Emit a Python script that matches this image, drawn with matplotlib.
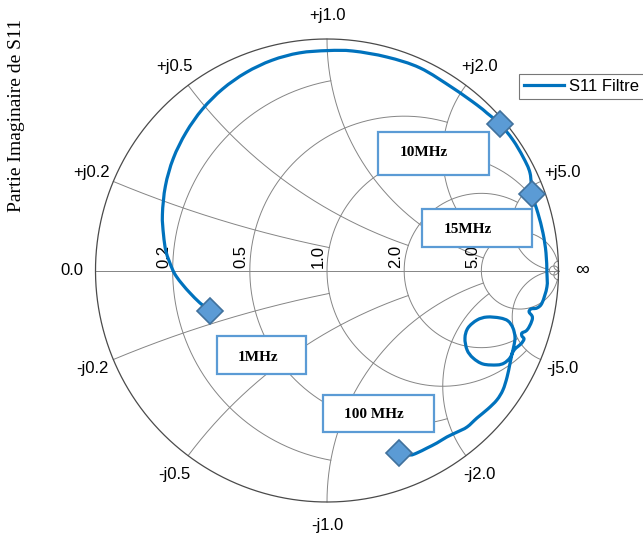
import numpy as np
import matplotlib
matplotlib.use("Agg")
import matplotlib.pyplot as plt
from matplotlib.patches import Rectangle, PathPatch
from matplotlib.path import Path
from matplotlib.lines import Line2D

# ---- data: S11 (reflection coefficient) real / imaginary parts ----
s11_re = [-0.505, -0.549, -0.592, -0.622, -0.652, -0.670, -0.695, -0.706, -0.711, -0.698,
          -0.664, -0.609, -0.538, -0.451, -0.350, -0.238, -0.119, 0.004, 0.112, 0.259,
          0.402, 0.544, 0.648, 0.691, 0.747, 0.803, 0.847, 0.877, 0.886, 0.911,
          0.933, 0.946, 0.950, 0.950, 0.929, 0.907, 0.881, 0.873, 0.886, 0.886,
          0.873, 0.860, 0.842, 0.842, 0.851, 0.838, 0.816, 0.803, 0.790, 0.765,
          0.734, 0.674, 0.631, 0.605, 0.596, 0.609, 0.648, 0.691, 0.747, 0.782,
          0.803, 0.812, 0.808, 0.799, 0.790, 0.778, 0.760, 0.734, 0.695, 0.648,
          0.605, 0.562, 0.518, 0.475, 0.432, 0.389, 0.359, 0.311]
s11_im = [-0.175, -0.140, -0.097, -0.063, -0.024, 0.011, 0.080, 0.153, 0.242, 0.365,
          0.484, 0.596, 0.697, 0.784, 0.855, 0.908, 0.940, 0.950, 0.948, 0.922,
          0.875, 0.788, 0.715, 0.680, 0.633, 0.564, 0.490, 0.421, 0.330, 0.248,
          0.162, 0.076, -0.011, -0.071, -0.140, -0.162, -0.166, -0.179, -0.197, -0.214,
          -0.244, -0.261, -0.270, -0.283, -0.296, -0.317, -0.335, -0.352, -0.378, -0.400,
          -0.408, -0.404, -0.378, -0.343, -0.292, -0.248, -0.214, -0.201, -0.205, -0.218,
          -0.248, -0.287, -0.322, -0.361, -0.404, -0.460, -0.516, -0.559, -0.598, -0.637,
          -0.676, -0.698, -0.719, -0.745, -0.767, -0.788, -0.797, -0.788]

marker_labels = ["1MHz", "10MHz", "15MHz", "100 MHz"]
marker_re = [-0.505, 0.747, 0.886, 0.311]
marker_im = [-0.175, 0.633, 0.330, -0.788]

grid_values = [0.2, 0.5, 1.0, 2.0, 5.0, 50.0]
grid_limits = [1.0, 2.0, 5.0, 5.0, 50.0, np.inf]
r_tick_values = [0.2, 0.5, 1.0, 2.0, 5.0]
r_tick_labels = ["0.2", "0.5", "1.0", "2.0", "5.0"]
x_tick_values = [0.2, 0.5, 1.0, 2.0, 5.0]
x_tick_pos_labels = ["+j0.2", "+j0.5", "+j1.0", "+j2.0", "+j5.0"]
x_tick_neg_labels = ["-j0.2", "-j0.5", "-j1.0", "-j2.0", "-j5.0"]

# ---- layout ----
W, H = 643, 540
CX, CY, R = 327.0, 270.5, 231.5
fig = plt.figure(figsize=(W / 100, H / 100), dpi=100)
ax = fig.add_axes([0, 0, 1, 1])
ax.set_xlim(-CX / R, (W - CX) / R)
ax.set_ylim(-(H - CY) / R, CY / R)
ax.axis("off")

GRID = "#858585"
OUTER = "#4a4a4a"
BLUE = "#0072BD"
SANS = "Liberation Sans"
SERIF = "Liberation Serif"


def gam(z):
    return (z - 1) / (z + 1)


# resistance circles
for r, lim in zip(grid_values, grid_limits):
    if np.isinf(lim):
        t = np.linspace(0, 2 * np.pi, 400)
        c, rad = r / (1 + r), 1 / (1 + r)
        ax.plot(c + rad * np.cos(t), rad * np.sin(t), color=GRID, lw=0.7, zorder=1)
    else:
        xs = np.linspace(-lim, lim, 3000)
        g = gam(r + 1j * xs)
        ax.plot(g.real, g.imag, color=GRID, lw=0.7, zorder=1)

# reactance arcs
for xv, lim in zip(grid_values, grid_limits):
    if np.isinf(lim):
        rs = np.tan(np.linspace(0, np.pi / 2 * 0.99999, 3000))
    else:
        rs = np.concatenate([[0.0], np.geomspace(1e-3, lim, 3000)])
    for sgn in (1, -1):
        g = gam(rs + 1j * sgn * xv)
        ax.plot(g.real, g.imag, color=GRID, lw=0.7, zorder=1)

# real axis and outer circle
ax.plot([-1, 1], [0, 0], color=GRID, lw=0.7, zorder=1)
t = np.linspace(0, 2 * np.pi, 600)
ax.plot(np.cos(t), np.sin(t), color=OUTER, lw=0.9, zorder=1)

# labels on outer circle
LR = 1.10
for xv, lp, ln in zip(x_tick_values, x_tick_pos_labels, x_tick_neg_labels):
    for sgn, lab in ((1, lp), (-1, ln)):
        a = np.angle(gam(1j * sgn * xv))
        ax.text(LR * np.cos(a), LR * np.sin(a), lab, ha="center", va="center",
                fontsize=12, family=SANS, color="black")
ax.text(-LR, 0, "0.0", ha="center", va="center", fontsize=12, family=SANS)
ax.text(LR, 0, "\u221e", ha="center", va="center", fontsize=14, family=SANS)

for rv, lab in zip(r_tick_values, r_tick_labels):
    xl = (rv - 1) / (rv + 1)
    ax.text(xl - 0.006, 0.01, lab, rotation=90, ha="right", va="bottom",
            fontsize=12, family=SANS, zorder=2)

# curve, drawn as a smooth Catmull-Rom path through the data points
P = np.column_stack([s11_re, s11_im])
Pe = np.vstack([P[0], P, P[-1]])
verts = [tuple(P[0])]
codes = [Path.MOVETO]
for i in range(1, len(Pe) - 2):
    p0, p1, p2, p3 = Pe[i - 1], Pe[i], Pe[i + 1], Pe[i + 2]
    c1 = p1 + (p2 - p0) / 6.0
    c2 = p2 - (p3 - p1) / 6.0
    verts += [tuple(c1), tuple(c2), tuple(p2)]
    codes += [Path.CURVE4] * 3
ax.add_patch(PathPatch(Path(verts, codes), facecolor="none", edgecolor=BLUE, lw=2.3,
                       capstyle="round", joinstyle="round", zorder=3))
ax.plot(marker_re, marker_im, ls="none", marker="D", ms=13.5, mfc="#5B9BD5",
        mec="#41719C", mew=1.2, zorder=4)

# annotation boxes
box_centers = [(-0.283, -0.365), (0.460, 0.505), (0.648, 0.184), (0.222, -0.618)]
box_sizes = [(0.384, 0.164), (0.480, 0.186), (0.475, 0.164), (0.480, 0.160)]
text_pos = [(-0.296, -0.374), (0.419, 0.508), (0.609, 0.179), (0.203, -0.624)]
for lab, (bx, by), (bw, bh), (tx, ty) in zip(marker_labels, box_centers, box_sizes, text_pos):
    ax.add_patch(Rectangle((bx - bw / 2, by - bh / 2), bw, bh, facecolor="white",
                           edgecolor="#5B9BD5", lw=1.6, zorder=5))
    ax.text(tx, ty, lab, ha="center", va="center", fontsize=11, family=SERIF,
            fontweight="bold", zorder=6)

# y label
fig.text(17 / W, 1 - 115 / H, "Partie Imaginaire de S11", rotation=90,
         ha="center", va="center", fontsize=14, family=SERIF)

# legend
handle = Line2D([], [], color=BLUE, lw=2.3)
leg = fig.legend([handle], ["S11 Filtre"], loc="upper left",
                 bbox_to_anchor=(519 / W, 1 - 74 / H), bbox_transform=fig.transFigure,
                 borderaxespad=0, frameon=True, fancybox=False, borderpad=0.3,
                 handlelength=2.4, handletextpad=0.3, prop={"family": SANS, "size": 12})
leg.get_frame().set_edgecolor("#555555")
leg.get_frame().set_linewidth(0.8)

fig.savefig("out.png", dpi=100)
